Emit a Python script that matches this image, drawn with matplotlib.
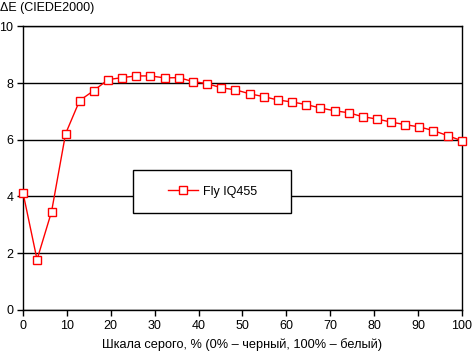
import matplotlib
matplotlib.use("Agg")
import matplotlib.pyplot as plt
from matplotlib.patches import Rectangle

plt.rcParams['font.family'] = ['Liberation Sans', 'DejaVu Sans']

# grey level, % (32 steps from black to white)
grey = [0, 3.2, 6.5, 9.7, 12.9, 16.1, 19.4, 22.6, 25.8, 29.0, 32.3, 35.5,
        38.7, 41.9, 45.2, 48.4, 51.6, 54.8, 58.1, 61.3, 64.5, 67.7, 71.0, 74.2,
        77.4, 80.6, 83.9, 87.1, 90.3, 93.5, 96.8, 100]
delta_e = [4.13, 1.77, 3.46, 6.21, 7.38, 7.73, 8.12, 8.19, 8.25, 8.25, 8.18, 8.19,
           8.05, 7.98, 7.83, 7.76, 7.62, 7.52, 7.40, 7.33, 7.24, 7.12, 7.02, 6.95,
           6.81, 6.73, 6.62, 6.53, 6.45, 6.32, 6.14, 5.96]
series_name = "Fly IQ455"
x_ticks = list(range(0, 101, 10))
y_ticks = list(range(0, 11, 2))

W, H = 472, 352
fig = plt.figure(figsize=(W / 100, H / 100), dpi=100)
ax = fig.add_axes([23 / W, 1 - 309.8 / H, (462 - 23) / W, (309.8 - 26.3) / H])

ax.plot(grey, delta_e, color="red", lw=1, marker="s", markersize=5.2,
        markerfacecolor="white", markeredgecolor="red", markeredgewidth=1,
        label=series_name, zorder=4, clip_on=False)

ax.set_xlim(0, 100)
ax.set_ylim(0, 10)
ax.set_xticks(x_ticks)
ax.set_yticks(y_ticks)
ax.yaxis.grid(True, color="black", lw=1)
ax.set_axisbelow(True)
for s in ax.spines.values():
    s.set_color("black")
    s.set_linewidth(1)
ax.tick_params(direction="out", length=4, width=1, color="black",
               labelsize=9, pad=3)

fig.text(0 / W, 1 - 8 / H, "ΔE (CIEDE2000)", fontsize=9, va="center", ha="left")
fig.text(0.5 + 6 / W, 1 - 345 / H, "Шкала серого, % (0% – черный, 100% – белый)",
         fontsize=9.2, va="center", ha="center")

# legend box
box = Rectangle((133 / W, 1 - 213.3 / H), (291.3 - 133) / W, (213.3 - 170.3) / H,
                transform=fig.transFigure, facecolor="white", edgecolor="black",
                lw=1, zorder=3)
ax.add_patch(box)
box.set_clip_on(False)
leg = ax.legend(loc="center", bbox_to_anchor=(213 / W, 1 - 191.8 / H),
                bbox_transform=fig.transFigure, frameon=False, fontsize=9,
                handlelength=2.4, handletextpad=0.4)
leg.set_zorder(5)

fig.savefig("out.png", dpi=100)
